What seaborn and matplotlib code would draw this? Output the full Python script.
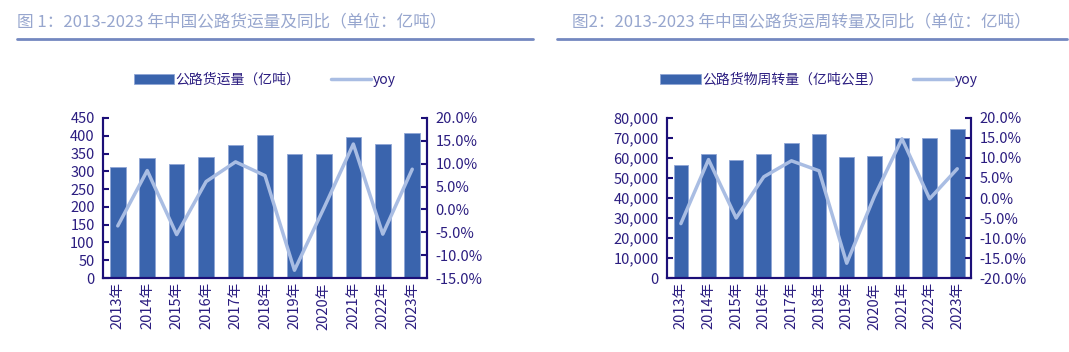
import seaborn as sns
import matplotlib.pyplot as plt
import matplotlib.ticker as mticker
from matplotlib.lines import Line2D
import pandas as pd
import numpy as np

years = ["2013年", "2014年", "2015年", "2016年", "2017年", "2018年",
         "2019年", "2020年", "2021年", "2022年", "2023年"]
volume = [312, 337, 321, 340, 374, 401, 349, 349, 397, 377, 409]
volume_yoy = [-3.6, 8.5, -5.5, 6.1, 10.4, 7.4, -13.3, 0.3, 14.3, -5.4, 8.8]
turnover = [56500, 62000, 58800, 62000, 67500, 72200, 60500, 61000, 70000, 69800, 74700]
turnover_yoy = [-6.4, 9.6, -5.0, 5.3, 9.3, 6.8, -16.3, 0.4, 14.8, -0.2, 7.3]

sns.set_theme(style="white")
plt.rcParams["font.family"] = ["Noto Sans CJK SC", "DejaVu Sans"]

BAR = "#3a64ad"
LINE = "#a9bde3"
NAVY = "#1c0f78"
TXT = "#2b1d80"
TITLE = "#97a6ce"

fig = plt.figure(figsize=(10.69, 3.52), dpi=100)

def panel(left, width, vals, yoy, bar_label, ymax, ystep, rmin, rmax, fmt):
    ax = fig.add_axes([left, 0.2102, width, 0.4546])
    df = pd.DataFrame({"year": years, "val": vals, "yoy": yoy})
    sns.barplot(data=df, x="year", y="val", ax=ax, color=BAR, width=0.53,
                edgecolor="#8fa6d6", linewidth=0.6, saturation=1, label=bar_label)
    ax2 = ax.twinx()
    sns.pointplot(data=df, x="year", y="yoy", ax=ax2, color=LINE,
                  markers="", linewidth=2.5, label="yoy")
    ax.set_xlim(-0.5, len(years) - 0.5)
    ax.set_ylim(0, ymax)
    ax.yaxis.set_major_locator(mticker.MultipleLocator(ystep))
    ax.yaxis.set_major_formatter(mticker.FuncFormatter(fmt))
    ax2.set_ylim(rmin, rmax)
    ax2.yaxis.set_major_locator(mticker.MultipleLocator(5))
    ax2.yaxis.set_major_formatter(mticker.FuncFormatter(lambda v, p: f"{v:.1f}%"))
    ax.set_xlabel("")
    ax.set_ylabel("")
    ax2.set_xlabel("")
    ax2.set_ylabel("")
    for a in (ax, ax2):
        for s in a.spines.values():
            s.set_color(NAVY)
            s.set_linewidth(1.5)
        a.spines["top"].set_visible(False)
    ax.tick_params(axis="x", labelrotation=90, labelsize=10.5, colors=TXT, length=0, pad=3)
    ax.set_xticks(np.arange(len(years) - 1) + 0.5, minor=True)
    ax.tick_params(axis="x", which="minor", direction="in", length=4, width=1.5, color=NAVY)
    ax.tick_params(axis="y", direction="in", length=4, width=1.5, color=NAVY,
                   labelsize=10.5, labelcolor=TXT, pad=6)
    ax2.tick_params(axis="y", direction="in", length=4, width=1.5, color=NAVY,
                    labelsize=10.5, labelcolor=TXT, pad=6)
    ax.set_zorder(ax2.get_zorder() - 1)
    ax2.patch.set_visible(False)
    h1, l1 = ax.get_legend_handles_labels()
    h2, l2 = ax2.get_legend_handles_labels()
    if ax2.get_legend() is not None:
        ax2.get_legend().remove()
    leg = ax.legend(h1 + h2, l1 + l2, loc="center", bbox_to_anchor=(0.5, 1.24),
                    ncol=2, frameon=False, fontsize=10, handlelength=2.9,
                    handletextpad=0.1, columnspacing=2.2)
    for t in leg.get_texts():
        t.set_color(TXT)
    return ax, ax2

panel(0.0964, 0.303, volume, volume_yoy, "公路货运量（亿吨）", 450, 50, -15, 20,
      lambda v, p: f"{v:.0f}")
panel(0.624, 0.2844, turnover, turnover_yoy, "公路货物周转量（亿吨公里）", 80000, 10000, -20, 20,
      lambda v, p: f"{v:,.0f}")

fig.text(17 / 1069, 1 - 22 / 352, "图 1：2013-2023 年中国公路货运量及同比（单位：亿吨）",
         color=TITLE, fontsize=12, va="center", ha="left", fontweight="light")
fig.text(572 / 1069, 1 - 22 / 352, "图2：2013-2023 年中国公路货运周转量及同比（单位：亿吨）",
         color=TITLE, fontsize=12, va="center", ha="left", fontweight="light")
ly = 1 - 39 / 352
fig.add_artist(Line2D([17 / 1069, 533 / 1069], [ly, ly], color="#7388c0", linewidth=2))
fig.add_artist(Line2D([557 / 1069, 1067 / 1069], [ly, ly], color="#7388c0", linewidth=2))

fig.savefig("out.png", dpi=100)
